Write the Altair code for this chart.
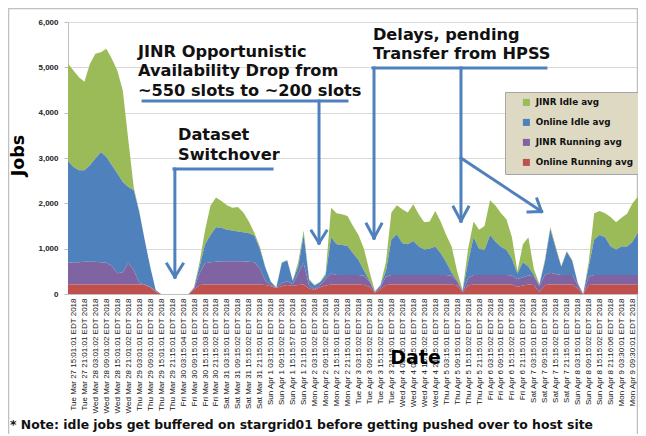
import altair as alt
import pandas as pd

# sample times: hours after Tue Mar 27 15:00 EDT 2018 (3-hourly readings)
hours = list(range(-3, 310, 3))

series_names = ["JINR Idle avg", "Online Idle avg", "JINR Running avg", "Online Running avg"]
series_colors = ["#9bbb59", "#4f81bd", "#8064a2", "#c0504d"]
stack_rank = [3, 2, 1, 0]

jinr_idle = [
    2150, 2130, 2050, 1950, 2240, 2310, 2200, 2390, 2350, 2270,
    2020, 1040, 60, 20, 0, 0, 0, 0, 0, 0,
    0, 0, 0, 10, 100, 300, 650, 660, 590, 540,
    500, 540, 440, 260, 60, 50, 20, 10, 10, 20,
    10, 10, 100, 100, 30, 10, 10, 50, 650, 680,
    680, 660, 600, 550, 480, 200, 10, 10, 200, 600,
    640, 750, 700, 810, 710, 600, 600, 780, 700, 600,
    580, 200, 10, 300, 350, 420, 530, 770, 800, 740,
    680, 470, 50, 400, 650, 130, 20, 50, 50, 50,
    20, 20, 20, 10, 0, 100, 580, 530, 530, 650,
    600, 630, 720, 850, 800,
]
online_idle = [
    2240, 2100, 2030, 2020, 2130, 2280, 2430, 2330, 2220, 2200,
    1990, 1670, 1760, 1570, 980, 440, 30, 0, 0, 0,
    0, 0, 0, 20, 150, 420, 600, 760, 740, 700,
    680, 660, 640, 630, 590, 440, 280, 70, 0, 440,
    460, 70, 150, 620, 120, 80, 60, 70, 800, 680,
    660, 640, 480, 330, 120, 20, 10, 40, 120, 780,
    900, 700, 680, 750, 630, 560, 580, 630, 480, 280,
    70, 20, 20, 350, 830, 580, 550, 880, 730, 620,
    550, 370, 120, 330, 190, 30, 30, 280, 960, 560,
    180, 510, 310, 40, 0, 220, 780, 880, 830, 630,
    560, 630, 630, 730, 930,
]
jinr_running = [
    480, 490, 490, 500, 500, 500, 490, 480, 410, 250,
    270, 480, 320, 30, 10, 10, 10, 0, 0, 0,
    0, 0, 0, 20, 250, 470, 490, 500, 510, 510,
    510, 510, 510, 500, 490, 350, 100, 30, 10, 70,
    80, 40, 250, 470, 60, 20, 50, 140, 240, 210,
    210, 210, 210, 210, 200, 120, 10, 50, 180, 210,
    210, 210, 210, 210, 210, 210, 210, 210, 210, 210,
    190, 90, 10, 160, 210, 210, 210, 210, 210, 210,
    210, 200, 170, 180, 200, 190, 130, 220, 260, 230,
    210, 210, 210, 80, 0, 180, 210, 210, 210, 210,
    210, 210, 210, 210, 210,
]
online_running = [
    210, 210, 210, 210, 210, 210, 210, 210, 210, 210,
    210, 210, 210, 210, 200, 150, 50, 0, 0, 0,
    0, 0, 0, 100, 200, 210, 210, 210, 210, 210,
    210, 210, 210, 210, 210, 210, 200, 170, 130, 170,
    200, 180, 200, 210, 120, 90, 150, 190, 210, 210,
    210, 210, 210, 210, 200, 160, 30, 100, 200, 210,
    210, 210, 210, 210, 210, 210, 210, 210, 210, 210,
    210, 190, 40, 190, 210, 210, 210, 210, 210, 210,
    210, 210, 160, 190, 210, 200, 40, 200, 210, 210,
    210, 210, 210, 120, 0, 200, 210, 210, 210, 210,
    210, 210, 210, 210, 210,
]

tick_labels = [
    "Tue Mar 27 15:01:01 EDT 2018", "Tue Mar 27 21:01:01 EDT 2018",
    "Wed Mar 28 03:01:02 EDT 2018", "Wed Mar 28 09:01:02 EDT 2018",
    "Wed Mar 28 15:01:01 EDT 2018", "Wed Mar 28 21:01:02 EDT 2018",
    "Thu Mar 29 03:01:01 EDT 2018", "Thu Mar 29 09:01:01 EDT 2018",
    "Thu Mar 29 15:01:01 EDT 2018", "Thu Mar 29 21:15:01 EDT 2018",
    "Fri Mar 30 03:15:04 EDT 2018", "Fri Mar 30 09:15:01 EDT 2018",
    "Fri Mar 30 15:15:03 EDT 2018", "Fri Mar 30 21:15:02 EDT 2018",
    "Sat Mar 31 03:15:01 EDT 2018", "Sat Mar 31 09:15:02 EDT 2018",
    "Sat Mar 31 15:15:02 EDT 2018", "Sat Mar 31 21:15:01 EDT 2018",
    "Sun Apr 1 03:15:01 EDT 2018", "Sun Apr 1 09:15:02 EDT 2018",
    "Sun Apr 1 15:15:57 EDT 2018", "Sun Apr 1 21:15:01 EDT 2018",
    "Mon Apr 2 03:15:02 EDT 2018", "Mon Apr 2 09:15:02 EDT 2018",
    "Mon Apr 2 15:15:01 EDT 2018", "Mon Apr 2 21:15:01 EDT 2018",
    "Tue Apr 3 03:15:02 EDT 2018", "Tue Apr 3 09:15:02 EDT 2018",
    "Tue Apr 3 15:15:02 EDT 2018", "Tue Apr 3 21:15:01 EDT 2018",
    "Wed Apr 4 03:15:01 EDT 2018", "Wed Apr 4 09:15:01 EDT 2018",
    "Wed Apr 4 15:15:02 EDT 2018", "Wed Apr 4 21:15:01 EDT 2018",
    "Thu Apr 5 03:15:01 EDT 2018", "Thu Apr 5 09:15:01 EDT 2018",
    "Thu Apr 5 15:15:02 EDT 2018", "Thu Apr 5 21:15:01 EDT 2018",
    "Fri Apr 6 03:15:02 EDT 2018", "Fri Apr 6 09:15:01 EDT 2018",
    "Fri Apr 6 15:15:02 EDT 2018", "Fri Apr 6 21:15:01 EDT 2018",
    "Sat Apr 7 03:15:01 EDT 2018", "Sat Apr 7 09:15:01 EDT 2018",
    "Sat Apr 7 15:15:02 EDT 2018", "Sat Apr 7 21:15:01 EDT 2018",
    "Sun Apr 8 03:15:01 EDT 2018", "Sun Apr 8 09:15:02 EDT 2018",
    "Sun Apr 8 15:15:02 EDT 2018", "Sun Apr 8 21:16:06 EDT 2018",
    "Mon Apr 9 03:30:01 EDT 2018", "Mon Apr 9 09:30:01 EDT 2018",
]
tick_hours = [6 * i for i in range(len(tick_labels))]
y_ticks = [0, 1000, 2000, 3000, 4000, 5000, 6000]

# annotation text blocks (data coordinates: hours, jobs of first baseline)
ann_lines = [
    ["JINR Opportunistic", "Availability Drop from", "~550 slots to ~200 slots"],
    ["Dataset", "Switchover"],
    ["Delays, pending", "Transfer from HPSS"],
]
ann_h = [35.3, 57.2, 163.9]
ann_jobs = [5228, 3397, 5603]

# arrow segments (data coordinates)
seg_h = [38.1, 134.4, 130.3, 138.5,
         55.0, 55.5, 51.2, 59.9,
         163.9, 164.5, 160.4, 168.6, 212.1, 208.0, 216.2, 212.1, 253.7, 248.8]
seg_jobs = [4258, 4258, 1390, 1390,
            2758, 2758, 662, 662,
            4986, 4986, 1544, 1544, 4986, 1919, 1919, 3000, 2096, 1809]
seg_h2 = [149.7, 134.4, 134.4, 134.4,
          108.7, 55.5, 55.5, 55.5,
          258.6, 164.5, 164.5, 164.5, 212.1, 212.1, 212.1, 256.2, 256.2, 256.2]
seg_jobs2 = [4258, 1125, 1125, 1125,
             2758, 375, 375, 375,
             4986, 1235, 1235, 1235, 1610, 1610, 1610, 1820, 1820, 1820]

note_text = "* Note: idle jobs get buffered on stargrid01 before getting pushed over to host site"

FONT = "Liberation Sans"
HEAVY = "DejaVu Sans"

rows = []
for name, rank, vals in zip(series_names, stack_rank,
                            [jinr_idle, online_idle, jinr_running, online_running]):
    for h, v in zip(hours, vals):
        rows.append({"h": h, "series": name, "jobs": v, "rank": rank})
df = pd.DataFrame(rows)

x_scale = alt.Scale(domain=[-3, 309], nice=False, zero=False)
y_scale = alt.Scale(domain=[0, 6000], nice=False, zero=True)

label_expr = "[" + ",".join("'" + s + "'" for s in tick_labels) + "][round(datum.value / 6)]"

x_axis = alt.Axis(
    values=tick_hours, labelExpr=label_expr, labelAngle=270,
    labelAlign="right", labelBaseline="middle", labelFontSize=8,
    labelFont=FONT, labelColor="#111111", labelPadding=4,
    labelOverlap=False, labelFlush=False, labelBound=False,
    ticks=False, grid=False, domainColor="#bfbfbf",
    title="Date", titleFont=HEAVY, titleFontSize=19, titleFontWeight="bold",
    titleColor="#000000", titleX=347, titleY=63, titleAlign="center",
    titleBaseline="middle",
)
y_axis = alt.Axis(
    values=y_ticks, labelExpr="format(datum.value, ',')", labelFont=FONT,
    labelFontSize=8, labelFontWeight="bold", labelColor="#222222",
    labelPadding=6, labelOverlap=False, tickSize=4, tickColor="#bfbfbf",
    domainColor="#bfbfbf", grid=True, gridColor="#d9d9d9", title="Jobs",
    titleFont=HEAVY, titleFontSize=17.5, titleFontWeight="bold",
    titleColor="#000000", titleAngle=270, titleX=-41, titleY=133,
    titleAlign="center", titleBaseline="bottom",
)

areas = alt.Chart(df).mark_area(interpolate="linear").encode(
    x=alt.X("h:Q", scale=x_scale, axis=x_axis),
    y=alt.Y("jobs:Q", stack="zero", scale=y_scale, axis=y_axis),
    color=alt.Color(
        "series:N",
        scale=alt.Scale(domain=series_names, range=series_colors),
        legend=alt.Legend(
            title=None, orient="none", legendX=437, legendY=70,
            fillColor="#ddd9c3", strokeColor="#a6a6a6", padding=6, rowPadding=10,
            symbolType="square", symbolSize=49, symbolOffset=11, symbolStrokeWidth=0,
            labelFont=HEAVY, labelFontSize=8.8, labelFontWeight="bold",
            labelColor="#111111", labelOffset=5,
        ),
    ),
    order=alt.Order("rank:Q", sort="ascending"),
)

seg_df = pd.DataFrame({"h": seg_h, "jobs": seg_jobs, "h2": seg_h2, "jobs2": seg_jobs2})
arrows = alt.Chart(seg_df).mark_rule(color="#4f81bd", strokeWidth=3, strokeCap="square").encode(
    x=alt.X("h:Q", scale=x_scale, axis=x_axis),
    x2="h2:Q",
    y=alt.Y("jobs:Q", scale=y_scale, axis=y_axis),
    y2="jobs2:Q",
)

ann_df = pd.DataFrame({"h": ann_h, "jobs": ann_jobs, "label": ann_lines})
texts = alt.Chart(ann_df).mark_text(
    align="left", baseline="alphabetic", font=HEAVY, fontSize=16.2,
    fontWeight="bold", color="#111111", lineHeight=19.5,
).encode(
    x=alt.X("h:Q", scale=x_scale, axis=x_axis),
    y=alt.Y("jobs:Q", scale=y_scale, axis=y_axis),
    text="label",
)

frame = alt.Chart(pd.DataFrame({"z": [0]})).mark_rect(
    filled=False, stroke="#c0c0c0", strokeWidth=1.5
).encode(
    x=alt.value(-59.5), x2=alt.value(569.5), y=alt.value(-13.5), y2=alt.value(425),
)

note = alt.Chart(pd.DataFrame({"note": [note_text]})).mark_text(
    align="left", baseline="alphabetic", font=HEAVY, fontSize=12.4,
    fontWeight="bold", color="#111111",
).encode(
    x=alt.value(-58), y=alt.value(407), text="note:N",
)

chart = alt.layer(frame, areas, arrows, texts, note).properties(
    width=570, height=272,
    autosize=alt.AutoSizeParams(type="none"),
    padding={"left": 60, "top": 14, "right": 0, "bottom": 140},
).configure(font=FONT).configure_view(stroke=None)

chart.save("out.html", embed_options={"renderer": "svg", "actions": False})
